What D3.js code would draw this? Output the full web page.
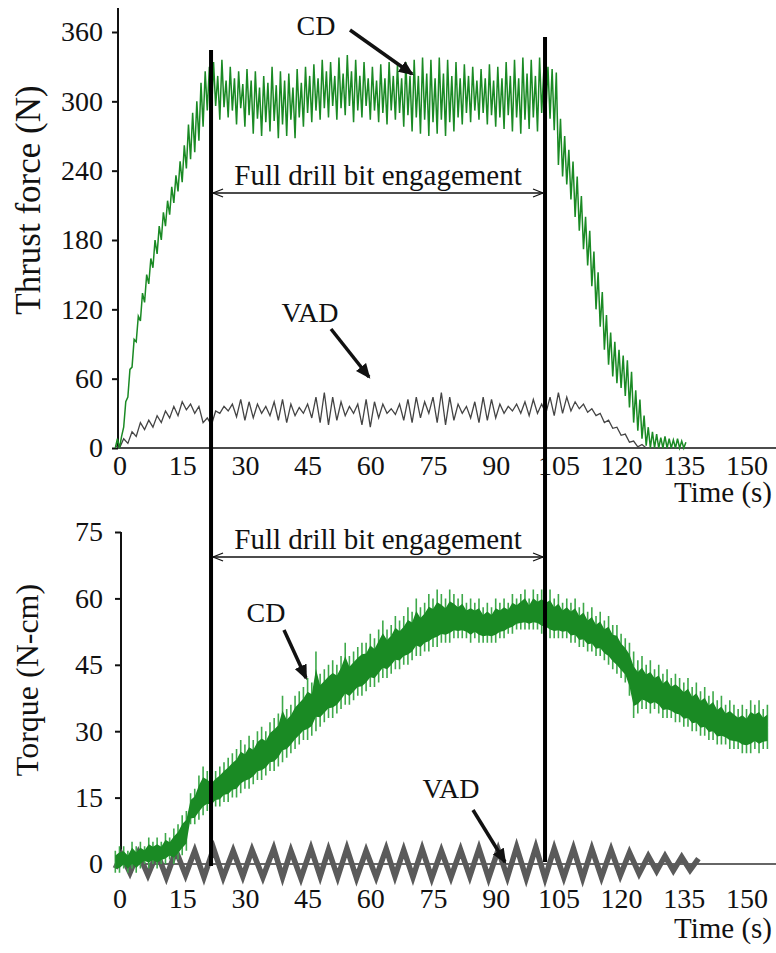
<!DOCTYPE html>
<html>
<head>
<meta charset="utf-8">
<script src="https://cdn.jsdelivr.net/npm/d3@7"></script>
<style>
  body { margin: 0; background: #fff; }
  svg { display: block; }
  text { font-family: "Liberation Serif", "Times New Roman", serif; fill: #111; }
</style>
</head>
<body>
<div id="chart"></div>
<script>
// ---- data ----
const timeTicks = [0, 15, 30, 45, 60, 75, 90, 105, 120, 135, 150];
const thrustTicks = [0, 60, 120, 180, 240, 300, 360];
const torqueTicks = [0, 15, 30, 45, 60, 75];
const engagement = [21.9, 101.8]; // s, start / end of full drill bit engagement

// CD thrust force (N), one sample per second starting at t = -1, low / high of the trace
const cdThrustStart = -1;
const cdThrustLo = [
  0, 0, 18, 44, 70, 92, 110, 126, 142, 156, 168, 180, 192, 202, 212, 222, 230, 242, 250, 256, 266, 278, 292,
  288, 296, 284, 295, 286, 292, 280, 294, 278, 288, 272, 285, 270, 282, 274, 283, 268, 280, 270, 284,
  268, 286, 278, 290, 282, 292, 284, 294, 286, 296, 284, 294, 288, 296, 282, 292, 286, 296, 284, 292,
  282, 290, 280, 292, 284, 290, 278, 288, 274, 286, 272, 284, 270, 282, 272, 284, 270, 282, 274, 286,
  280, 290, 282, 292, 284, 290, 280, 288, 278, 286, 276, 288, 274, 286, 272, 284, 276, 286, 274, 290,
  290, 285, 275, 245, 235, 228, 215, 200, 188, 172, 158, 140, 120, 105, 85, 72, 62, 56, 52, 45,
  35, 22, 15, 8, 2, 0, 0, 0, 0, 0, 0, 0, 0, 0
];
const cdThrustHi = [
  8, 10, 40, 68, 94, 114, 134, 150, 164, 180, 192, 204, 214, 226, 236, 248, 262, 280, 290, 300, 316, 326, 330,
  334, 322, 336, 318, 330, 320, 326, 315, 328, 318, 326, 312, 322, 316, 330, 314, 326, 318, 324, 312,
  328, 316, 330, 322, 332, 320, 336, 326, 334, 322, 338, 324, 340, 326, 336, 322, 334, 320, 330, 318,
  332, 320, 334, 322, 332, 320, 334, 322, 336, 322, 338, 324, 336, 320, 338, 324, 336, 322, 334, 320,
  332, 322, 330, 318, 328, 320, 332, 318, 330, 320, 334, 322, 336, 320, 338, 324, 336, 322, 338, 326,
  330, 328, 325, 285, 270, 258, 248, 235, 218, 200, 188, 170, 152, 135, 115, 100, 92, 85, 80, 76,
  66, 50, 42, 28, 18, 14, 12, 9, 10, 8, 7, 8, 6, 5
];

// VAD thrust force (N), one sample per second starting at t = -1
const vadThrustStart = -1;
const vadThrust = [
  2, 0, 8, 4, 14, 10, 22, 16, 24, 18, 28, 22, 32, 26, 36, 28, 40, 33, 38, 30, 36, 22,
  26, 20, 32, 30, 36, 32, 38, 27, 42, 24, 40, 26, 38, 30, 36, 28, 40, 24, 42, 22,
  38, 28, 35, 30, 38, 26, 44, 22, 48, 20, 44, 24, 40, 28, 36, 30, 38, 20, 42, 18,
  40, 26, 38, 30, 34, 29, 38, 24, 42, 22, 44, 26, 40, 30, 44, 22, 48, 20, 44, 24,
  38, 30, 36, 26, 40, 22, 44, 24, 42, 26, 38, 30, 36, 32, 38, 30, 40, 28, 42, 30,
  38, 30, 44, 28, 48, 30, 44, 32, 40, 34, 38, 31, 34, 28, 30, 22, 24, 17, 18, 11,
  12, 5, 6, 1, 3, 0
];

// CD torque (N-cm), one sample per second starting at t = -1, low / high of the trace
const cdTorqueStart = -1;
const cdTorqueLo = [
  -2, -2, -1, -2, -1, -2, -1, 0, -1, 0, -1, 0, 0, 1, 0, 1, 2, 3, 9, 9, 10, 11, 12,
  12, 13, 13, 14, 14, 15, 15, 16, 17, 17, 18, 19, 19, 20, 21, 21, 22, 23, 24, 25,
  26, 27, 28, 28, 29, 30, 31, 32, 33, 33, 34, 35, 36, 36, 37, 38, 38, 39, 40, 40,
  41, 42, 42, 43, 44, 44, 45, 45, 46, 47, 47, 48, 48, 49, 49, 50, 50, 50, 51, 51,
  51, 51, 50, 51, 50, 50, 50, 50, 50, 51, 51, 52, 52, 53, 53, 53, 53, 53, 53, 52,
  52, 51, 51, 51, 51, 51, 50, 50, 49, 49, 48, 48, 47, 47, 46, 45, 44, 43, 42, 41,
  38, 33, 34, 35, 35, 34, 35, 34, 33, 33, 33, 32, 32, 31, 31, 30, 30, 29, 29, 28,
  28, 27, 27, 27, 26, 26, 26, 25, 25, 25, 26, 25, 26, 26
];
const cdTorqueHi = [
  3, 4, 4, 3, 5, 4, 5, 4, 6, 5, 6, 5, 7, 6, 8, 9, 11, 12, 16, 17, 20, 22, 21,
  20, 21, 22, 23, 24, 25, 26, 28, 27, 29, 28, 30, 31, 30, 32, 33, 34, 38, 35, 36,
  38, 39, 40, 42, 41, 48, 43, 44, 45, 46, 45, 47, 50, 47, 48, 49, 50, 50, 52, 51,
  53, 55, 53, 54, 56, 55, 56, 58, 57, 60, 58, 59, 61, 60, 62, 61, 60, 62, 61, 60,
  61, 59, 60, 59, 60, 58, 59, 58, 60, 59, 60, 59, 61, 60, 61, 62, 60, 62, 61, 62,
  61, 62, 60, 61, 59, 60, 59, 60, 58, 59, 57, 58, 56, 57, 55, 56, 54, 54, 52, 51,
  50, 48, 46, 47, 45, 46, 44, 45, 43, 44, 42, 43, 42, 41, 42, 40, 41, 39, 40, 38,
  39, 37, 38, 36, 37, 36, 35, 36, 35, 37, 36, 37, 35, 36
];

// VAD torque (N-cm), peaks and troughs of the oscillation
const vadTorqueTime = [
  -1, 0.5, 2.5, 4.5, 6.8, 9, 11.2, 13.5, 15.8, 18, 20.2, 22.5, 24.8, 27.2, 29.5, 31.7,
  34.3, 36.9, 39, 41, 43.4, 45.8, 48, 50, 52.2, 54.4, 56.7, 59, 61.4, 63.8, 65.9, 68,
  70.2, 72.4, 74.7, 77, 79.3, 81.6, 83.8, 86, 88.3, 90.6, 92.8, 95, 97.3, 99.6, 101.8, 104,
  106.3, 108.6, 110.8, 113, 115.3, 117.6, 119.8, 122, 124.3, 126.5, 128.5, 130.5, 132.5, 134.5, 136.5, 138.5
];
const vadTorque = [
  -1, 2, -2, 2.5, -2.5, 2.5, -3, 3, -2.5, 3, -3, 3.5, -3, 3, -2.8, 3.2,
  -3, 3.5, -3, 3, -3.2, 3.5, -2.8, 3.2, -3, 3.5, -3.2, 3, -3, 3.4, -2.8, 3.2,
  -3, 3.4, -3.2, 3, -3, 3.2, -2.8, 3.5, -3.2, 3.2, -3, 3.8, -3.2, 3.8, -3.2, 3.5,
  -3, 3.5, -3.2, 3.4, -3, 3.2, -2.6, 2.6, -2.2, 1.8, -1.6, 1.8, -1.5, 1.6, -1.4, 1.2
];

// ---- layout ----
const width = 776, height = 953;
const serif = '"Liberation Serif", "Times New Roman", serif';
const green = "#1a8a24", greenLight = "#3ea94a";

const svg = d3.select("#chart")
  .append("svg")
  .attr("width", width)
  .attr("height", height)
  .style("font-family", serif);

const x = d3.scaleLinear().domain([0, 150]).range([119.5, 746.5]);
const yThrust = d3.scaleLinear().domain([0, 360]).range([448, 32]);
const yTorque = d3.scaleLinear().domain([0, 75]).range([864, 532]);

// arrow markers
const defs = svg.append("defs");
defs.append("marker")
  .attr("id", "solid")
  .attr("viewBox", "0 -6 14 12")
  .attr("refX", 12).attr("refY", 0)
  .attr("markerUnits", "userSpaceOnUse")
  .attr("markerWidth", 15).attr("markerHeight", 13)
  .attr("orient", "auto")
  .append("path")
  .attr("d", "M0,-6L14,0L0,6Z")
  .attr("fill", "#111");
defs.append("marker")
  .attr("id", "open")
  .attr("viewBox", "-1 -5 12 10")
  .attr("refX", 10).attr("refY", 0)
  .attr("markerUnits", "userSpaceOnUse")
  .attr("markerWidth", 12).attr("markerHeight", 10)
  .attr("orient", "auto-start-reverse")
  .append("path")
  .attr("d", "M0,-4L10,0L0,4")
  .attr("fill", "none")
  .attr("stroke", "#111")
  .attr("stroke-width", 1.3);

// ---- axes ----
function leftAxis(scale, ticks, ax, pad, topY) {
  const g = svg.append("g")
    .attr("transform", `translate(${ax},0)`)
    .call(d3.axisLeft(scale).tickValues(ticks).tickSize(6).tickPadding(pad))
    .attr("font-family", serif);
  g.select(".domain").remove();
  g.selectAll(".tick line").attr("stroke", "#111").attr("stroke-width", 2);
  g.selectAll(".tick text").style("font-size", "28px").attr("fill", "#111")
    .style("font-family", serif);
  svg.append("line")
    .attr("x1", ax).attr("x2", ax)
    .attr("y1", topY).attr("y2", scale(0))
    .attr("stroke", "#111").attr("stroke-width", 2);
}
function bottomAxis(y0, pad) {
  const g = svg.append("g")
    .attr("transform", `translate(0,${y0})`)
    .call(d3.axisBottom(x).tickValues(timeTicks).tickSize(0).tickPadding(pad))
    .attr("font-family", serif);
  g.select(".domain").remove();
  g.selectAll(".tick text").style("font-size", "28px").attr("fill", "#111")
    .style("font-family", serif);
}

leftAxis(yThrust, thrustTicks, 118, 9, 8);
leftAxis(yTorque, torqueTicks, 121, 12, yTorque(75));
bottomAxis(yThrust(0), 7);
bottomAxis(yTorque(0), 24);

// x axis lines
svg.append("line").attr("x1", 118).attr("x2", width)
  .attr("y1", yThrust(0)).attr("y2", yThrust(0))
  .attr("stroke", "#111").attr("stroke-width", 1.6);
svg.append("line").attr("x1", 121).attr("x2", width)
  .attr("y1", yTorque(0)).attr("y2", yTorque(0))
  .attr("stroke", "#333").attr("stroke-width", 1.6);

// axis titles
svg.append("text")
  .attr("transform", `translate(40,${(yThrust(0) + yThrust(360)) / 2 - 40}) rotate(-90)`)
  .attr("text-anchor", "middle")
  .style("font-size", "35px")
  .text("Thrust force (N)");
svg.append("text")
  .attr("transform", `translate(38,${(yTorque(0) + yTorque(75)) / 2 - 18}) rotate(-90)`)
  .attr("text-anchor", "middle")
  .style("font-size", "32px")
  .text("Torque (N-cm)");
svg.append("text").attr("x", 772).attr("y", 502)
  .attr("text-anchor", "end").style("font-size", "29px").text("Time (s)");
svg.append("text").attr("x", 772).attr("y", 938)
  .attr("text-anchor", "end").style("font-size", "29px").text("Time (s)");

// ---- traces ----
// dense trace as a tight triangle wave: low at each sample, high half a sample later
function zigzag(start, lo, hi, y) {
  const p = d3.path();
  lo.forEach((v, i) => {
    if (i === 0) p.moveTo(x(start + i), y(v)); else p.lineTo(x(start + i), y(v));
    p.lineTo(x(start + i + 0.5), y(hi[i]));
  });
  return p.toString();
}
// dense trace: a centre line with a vertical stroke from low to high at every sample
function spikes(start, lo, hi, y) {
  const p = d3.path();
  lo.forEach((v, i) => {
    const px = x(start + i), mid = y((v + hi[i]) / 2);
    if (i === 0) p.moveTo(px, mid); else p.lineTo(px, mid);
    p.lineTo(px, y(hi[i]));
    p.lineTo(px, y(v));
    p.lineTo(px, mid);
  });
  return p.toString();
}

// top: VAD thrust
svg.append("path")
  .datum(vadThrust)
  .attr("fill", "none")
  .attr("stroke", "#444")
  .attr("stroke-width", 1.3)
  .attr("d", d3.line().x((d, i) => x(vadThrustStart + i)).y(d => yThrust(d)));

// top: CD thrust
svg.append("path")
  .attr("fill", "none")
  .attr("stroke", green)
  .attr("stroke-width", 1.5)
  .attr("d", zigzag(cdThrustStart, cdThrustLo, cdThrustHi, yThrust));

// bottom: VAD torque (thick grey band)
svg.append("path")
  .datum(vadTorque)
  .attr("fill", "none")
  .attr("stroke", "#5a5a5a")
  .attr("stroke-width", 5.5)
  .attr("stroke-linejoin", "miter")
  .attr("d", d3.line().x((d, i) => x(vadTorqueTime[i])).y(d => yTorque(d)));

// bottom: CD torque, dark core band plus lighter spikes
svg.append("path")
  .attr("fill", "none")
  .attr("stroke", greenLight)
  .attr("stroke-width", 1.6)
  .attr("d", spikes(cdTorqueStart, cdTorqueLo, cdTorqueHi, yTorque));
svg.append("path")
  .datum(cdTorqueLo)
  .attr("fill", green)
  .attr("d", d3.area()
    .x((d, i) => x(cdTorqueStart + i))
    .y0((d, i) => yTorque(d + (cdTorqueHi[i] - d) * 0.18))
    .y1((d, i) => yTorque(cdTorqueHi[i] - (cdTorqueHi[i] - d) * 0.22)));

// ---- engagement lines and annotations ----
const lineTop = [50, 37], lineBottom = [866, 862];
engagement.forEach((t, i) => {
  svg.append("line")
    .attr("x1", x(t)).attr("x2", x(t))
    .attr("y1", lineTop[i]).attr("y2", lineBottom[i])
    .attr("stroke", "#000").attr("stroke-width", 4);
});

[[193, 185], [557, 549]].forEach(([ay, ty]) => {
  svg.append("line")
    .attr("x1", x(engagement[0]) + 2).attr("x2", x(engagement[1]) - 2)
    .attr("y1", ay).attr("y2", ay)
    .attr("stroke", "#111").attr("stroke-width", 1.3)
    .attr("marker-start", "url(#open)")
    .attr("marker-end", "url(#open)");
  svg.append("text")
    .attr("x", (x(engagement[0]) + x(engagement[1])) / 2)
    .attr("y", ty)
    .attr("text-anchor", "middle")
    .style("font-size", "29px")
    .text("Full drill bit engagement");
});

const notes = [
  { label: "CD", tx: 316, ty: 35, from: [350, 30], to: [412, 74] },
  { label: "VAD", tx: 310, ty: 322, from: [331, 329], to: [369, 377] },
  { label: "CD", tx: 266, ty: 622, from: [284, 630], to: [306, 678] },
  { label: "VAD", tx: 451, ty: 798, from: [473, 810], to: [505, 862] }
];
notes.forEach(n => {
  svg.append("text")
    .attr("x", n.tx).attr("y", n.ty)
    .attr("text-anchor", "middle")
    .style("font-size", "28px")
    .text(n.label);
  svg.append("line")
    .attr("x1", n.from[0]).attr("y1", n.from[1])
    .attr("x2", n.to[0]).attr("y2", n.to[1])
    .attr("stroke", "#111").attr("stroke-width", 3.5)
    .attr("marker-end", "url(#solid)");
});
</script>
</body>
</html>
